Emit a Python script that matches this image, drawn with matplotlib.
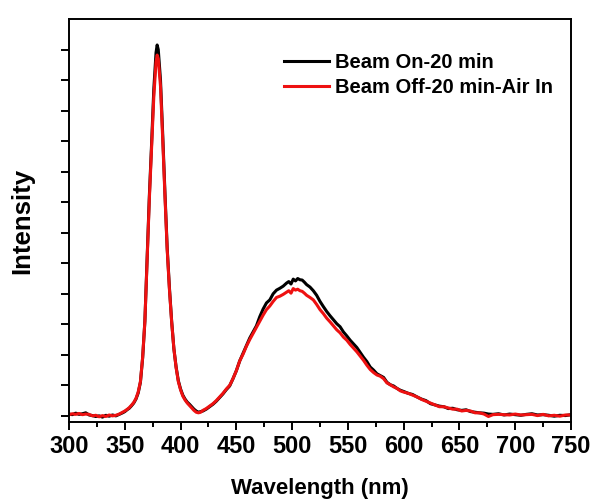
#!/usr/bin/env python

import numpy as np
import matplotlib
matplotlib.use('Agg')
import matplotlib.pyplot as plt

# Wavelength grid (nm), shared by both spectra
wavelength = [
	300,303,306,309,312,315,318,321,324,327,330,333,336,339,342,345,348,
	350,352,354,356,358,360,362,364,366,368,370,372,374,376,378,379,380,
	382,384,386,388,390,392,394,396,398,400,402,404,406,408,410,412,414,416,
	418,420,423,426,429,432,435,438,441,444,447,450,453,456,459,462,465,468,
	471,474,477,480,483,486,489,492,495,
	497,499,501,503,505,507,509,511,513,
	516,519,522,525,528,531,534,537,540,543,546,549,552,555,558,561,564,567,
	570,573,576,579,582,585,588,591,594,597,600,
	604,608,612,616,620,624,628,632,636,640,644,648,652,656,660,664,668,672,676,680,
	685,690,695,700,705,710,715,720,725,730,735,740,745,750,
]

# Intensity (arb. units), beam on for 20 min
beam_on = [
	0.06,0.04,0.09,0.05,0.07,0.10,0.03,0.01,-0.02,0.00,-0.04,0.02,-0.01,0.03,0.00,0.05,0.10,
	0.14,0.20,0.25,0.33,0.42,0.55,0.75,1.10,1.90,3.10,5.20,7.20,8.90,10.70,11.90,12.15,12.00,
	11.00,9.20,7.30,5.50,4.20,3.10,2.20,1.60,1.15,0.88,0.68,0.55,0.45,0.38,0.30,0.22,0.16,0.12,
	0.14,0.16,0.22,0.30,0.38,0.48,0.60,0.72,0.86,0.98,1.22,1.48,1.80,2.05,2.30,2.55,2.75,2.95,
	3.25,3.50,3.70,3.80,4.00,4.12,4.18,4.25,4.35,
	4.40,4.32,4.48,4.42,4.50,4.46,4.45,4.38,4.30,
	4.22,4.10,3.95,3.75,3.58,3.42,3.28,3.15,3.02,2.92,2.75,2.62,2.48,2.36,2.24,2.08,1.92,1.78,
	1.60,1.50,1.38,1.32,1.26,1.10,1.02,0.98,0.90,0.84,0.80,
	0.74,0.70,0.62,0.55,0.50,0.40,0.36,0.32,0.30,0.24,0.25,0.20,0.18,0.20,0.14,0.12,0.10,0.09,0.06,0.05,
	0.07,0.03,0.06,0.04,0.02,0.05,0.07,0.03,0.04,0.02,-0.01,0.02,0.01,0.04,
]

# Intensity (arb. units), beam off for 20 min with air let in
beam_off = [
	0.04,0.07,0.05,0.08,0.04,0.06,0.05,0.00,0.02,-0.03,0.01,-0.02,0.03,0.00,0.02,0.06,0.12,
	0.16,0.21,0.27,0.35,0.44,0.57,0.78,1.12,1.92,3.10,5.15,7.10,8.75,10.45,11.60,11.82,11.70,
	10.80,9.05,7.20,5.45,4.15,3.08,2.20,1.58,1.12,0.85,0.65,0.52,0.42,0.34,0.26,0.18,0.12,0.10,
	0.12,0.18,0.24,0.32,0.40,0.50,0.62,0.74,0.88,1.00,1.22,1.48,1.80,2.02,2.28,2.50,2.70,2.90,
	3.10,3.30,3.48,3.60,3.75,3.88,3.92,3.98,4.05,
	4.10,4.02,4.17,4.12,4.15,4.10,4.08,4.02,3.95,
	3.88,3.80,3.65,3.48,3.35,3.20,3.08,2.95,2.82,2.72,2.58,2.48,2.34,2.22,2.10,1.96,1.82,1.66,
	1.52,1.42,1.34,1.30,1.22,1.08,1.02,0.95,0.90,0.82,0.78,
	0.74,0.68,0.62,0.54,0.48,0.42,0.36,0.30,0.30,0.26,0.22,0.22,0.16,0.18,0.16,0.10,0.10,0.06,-0.02,0.04,
	0.05,0.04,0.03,0.06,0.03,0.04,0.05,0.01,0.05,0.00,0.02,-0.01,0.03,0.03,
]

labels = ['Beam On-20 min','Beam Off-20 min-Air In']
colors = ['black','#ee1111']
xticks = [300,350,400,450,500,550,600,650,700,750]


def plot(path='out.png'):
	'''
	Plot both spectra
	Args:
		path (str): path to save plot
	'''

	assert len(wavelength) == len(beam_on) == len(beam_off)

	plt.rcParams['font.family'] = ['Liberation Sans','DejaVu Sans']
	plt.rcParams['font.weight'] = 'bold'

	fig = plt.figure(figsize=(5.93,5.01),dpi=100)
	ax = fig.add_axes([0.1164,0.1577,0.8465,0.8043])

	for y,label,color in zip([beam_on,beam_off],labels,colors):
		ax.plot(wavelength,y,color=color,lw=2.2,label=label)

	ax.set_xlim(300,750)
	ax.set_ylim(-0.2,13)

	ax.set_xticks(xticks)
	ax.set_xticks(np.arange(325,750,50),minor=True)
	ax.set_yticks(np.arange(0,13,1))
	ax.set_yticklabels([])

	ax.tick_params(axis='x',which='major',direction='out',length=5.5,width=1.4,labelsize=17,pad=4)
	ax.tick_params(axis='x',which='minor',direction='out',length=3.5,width=1.4)
	ax.tick_params(axis='y',which='major',direction='out',length=5.8,width=1.4)
	for label in ax.get_xticklabels():
		label.set_fontweight('bold')

	for spine in ax.spines.values():
		spine.set_linewidth(1.4)

	ax.set_xlabel('Wavelength (nm)',fontsize=16,fontweight='bold',labelpad=14)
	ax.set_ylabel('Intensity',fontsize=18.5,fontweight='bold',labelpad=15.5)

	options = {'loc':'upper left','bbox_to_anchor':(0.408,0.94),'frameon':False,
		'handlelength':2.25,'handletextpad':0.3,'labelspacing':0.3,'borderpad':0,
		'prop':{'weight':'bold','size':14.5}}
	ax.legend(**options)

	fig.savefig(path,dpi=100)

	return


if __name__ == "__main__":

	plot()
